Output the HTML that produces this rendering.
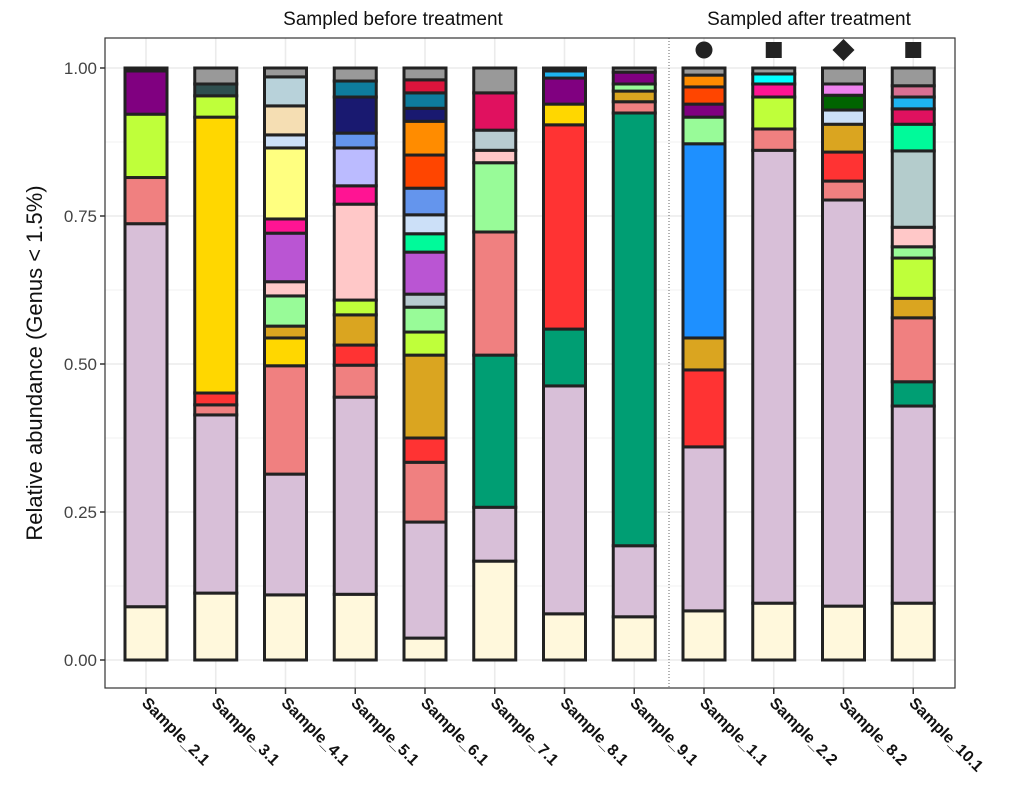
<!DOCTYPE html>
<html><head><meta charset="utf-8"><style>
body{margin:0;background:#fff}
svg{display:block;font-family:"Liberation Sans",Arial,sans-serif}
</style></head><body>
<svg id="chart" width="1024" height="790" viewBox="0 0 1024 790">
<rect x="0" y="0" width="1024" height="790" fill="#fff"/>
<g id="grid"></g>
<g id="bars"></g>
<line x1="669" y1="38" x2="669" y2="688" stroke="#666" stroke-width="1" stroke-dasharray="1,2"/>
<rect x="105" y="38" width="850" height="650" fill="none" stroke="#333" stroke-width="1.2"/>
<g id="yaxis"></g>
<g id="xaxis"></g>
<g id="markers"></g>
<text x="393" y="25" font-size="19" text-anchor="middle" fill="#111">Sampled before treatment</text>
<text x="809" y="25" font-size="19" text-anchor="middle" fill="#111">Sampled after treatment</text>
<text transform="translate(42,363) rotate(-90)" font-size="22" text-anchor="middle" fill="#111">Relative abundance (Genus &lt; 1.5%)</text>
</svg>
<script>
const categories = ["Sample_2.1","Sample_3.1","Sample_4.1","Sample_5.1","Sample_6.1","Sample_7.1","Sample_8.1","Sample_9.1","Sample_1.1","Sample_2.2","Sample_8.2","Sample_10.1"];
const seg_2_1 = [.09,.647,.078,.107,.073,.005];
const col_2_1 = ["#FFF8DC","#D8BFD8","#F08080","#BFFF3A","#800080","#999"];
const seg_3_1 = [.113,.301,.017,.02,.466,.036,.02,.027];
const col_3_1 = ["#FFF8DC","#D8BFD8","#F08080","#FF3333","#FFD700","#BFFF3A","#2F4F4F","#999"];
const seg_4_1 = [.11,.204,.183,.047,.02,.051,.024,.082,.024,.12,.022,.049,.049,.015];
const col_4_1 = ["#FFF8DC","#D8BFD8","#F08080","#FFD700","#DAA520","#98FB98","#FFC8C8","#BA55D3","#FF1493","#FFFF80","#CCE0F8","#F5DEB3","#B8D2DA","#999"];
const seg_5_1 = [.111,.333,.054,.034,.051,.025,.162,.031,.064,.025,.061,.027,.022];
const col_5_1 = ["#FFF8DC","#D8BFD8","#F08080","#FF3333","#DAA520","#BFFF3A","#FFC8C8","#FF1493","#BBBBFF","#6495ED","#191970","#0E7C9D","#999"];
const seg_6_1 = [.037,.196,.101,.041,.14,.039,.042,.022,.071,.031,.032,.045,.056,.057,.022,.026,.022,.02];
const col_6_1 = ["#FFF8DC","#D8BFD8","#F08080","#FF3333","#DAA520","#BFFF3A","#98FB98","#B8CBD0","#BA55D3","#00FA9A","#CCE0F8","#6495ED","#FF4500","#FF8C00","#191970","#0E7C9D","#DC143C","#999"];
const seg_7_1 = [.167,.091,.257,.208,.117,.021,.034,.063,.042];
const col_7_1 = ["#FFF8DC","#D8BFD8","#009E73","#F08080","#98FB98","#FFC8C8","#B8CBD0","#E0115F","#999"];
const seg_8_1 = [.078,.385,.096,.345,.035,.044,.012,.005];
const col_8_1 = ["#FFF8DC","#D8BFD8","#009E73","#FF3333","#FFD700","#800080","#1EB4F0","#999"];
const seg_9_1 = [.073,.12,.731,.019,.018,.012,.02,.007];
const col_9_1 = ["#FFF8DC","#D8BFD8","#009E73","#F08080","#DAA520","#98FB98","#800080","#999"];
const seg_1_1 = [.083,.277,.13,.054,.328,.045,.022,.029,.02,.012];
const col_1_1 = ["#FFF8DC","#D8BFD8","#FF3333","#DAA520","#1E90FF","#98FB98","#800080","#FF4500","#FF8C00","#999"];
const seg_2_2 = [.096,.765,.036,.054,.022,.017,.01];
const col_2_2 = ["#FFF8DC","#D8BFD8","#F08080","#BFFF3A","#FF1493","#00FFFF","#999"];
const seg_8_2 = [.091,.686,.032,.049,.047,.024,.025,.019,.027];
const col_8_2 = ["#FFF8DC","#D8BFD8","#F08080","#FF3333","#DAA520","#CCE0F8","#006400","#EE82EE","#999"];
const seg_10_1 = [.096,.333,.041,.108,.033,.068,.019,.033,.129,.045,.026,.02,.019,.03];
const col_10_1 = ["#FFF8DC","#D8BFD8","#009E73","#F08080","#DAA520","#BFFF3A","#98FB98","#FFC8C8","#B4CCCC","#00FA9A","#E0115F","#1EB4F0","#D87093","#999"];
const seriesValues = [seg_2_1,seg_3_1,seg_4_1,seg_5_1,seg_6_1,seg_7_1,seg_8_1,seg_9_1,seg_1_1,seg_2_2,seg_8_2,seg_10_1];
const seriesColors = [col_2_1,col_3_1,col_4_1,col_5_1,col_6_1,col_7_1,col_8_1,col_9_1,col_1_1,col_2_2,col_8_2,col_10_1];
const yTicks = [0,0.25,0.5,0.75,1];
const yTickLabels = ["0.00","0.25","0.50","0.75","1.00"];
const markerShapes = ["circle","square","diamond","square"];

const NS="http://www.w3.org/2000/svg";
const y = v => 660 - v*592;
const x = i => 146 + i*69.75;
const BW = 42;
function mk(tag, attrs, parent){const e=document.createElementNS(NS,tag);for(const k in attrs)e.setAttribute(k,attrs[k]);parent.appendChild(e);return e;}
const grid=document.getElementById('grid'), bars=document.getElementById('bars'), ya=document.getElementById('yaxis'), xa=document.getElementById('xaxis'), mg=document.getElementById('markers');
for(let v=0; v<=1.0001; v+=0.125){
  const major = Math.abs(v*4-Math.round(v*4))<1e-6;
  const l=mk('line',{x1:105,x2:955,y1:y(v),y2:y(v),stroke:'#ebebeb','stroke-width':major?1.6:0.8},grid);
  
  
}
categories.forEach((c,i)=>{
  const l=mk('line',{x1:x(i),x2:x(i),y1:38,y2:688,stroke:'#ebebeb','stroke-width':1.6},grid);
  
  
  const g=mk('g',{},bars);
  
  
  let cum=0;
  seriesValues[i].forEach((s,j)=>{
    const r=mk('rect',{x:x(i)-BW/2,y:y(cum+s),width:BW,height:Math.max(0,y(cum)-y(cum+s)),fill:seriesColors[i][j],stroke:'#222','stroke-width':3},g);
    
    
    cum+=s;
  });
  const tk=mk('line',{x1:x(i),x2:x(i),y1:688,y2:694,stroke:'#333','stroke-width':1.5},xa);
  
  
  const t=mk('text',{transform:`translate(${x(i)-5},${704}) rotate(45)`,'font-size':16,'font-weight':'bold',fill:'#111'},xa);
  t.textContent=c;
  
  
});
yTicks.forEach((v,i)=>{
  const tk=mk('line',{x1:100,x2:105,y1:y(v),y2:y(v),stroke:'#333','stroke-width':1.5},ya);
  
  
  const t=mk('text',{x:97,y:y(v)+6,'font-size':17,'text-anchor':'end',fill:'#444'},ya);
  t.textContent=yTickLabels[i];
  
  
});
markerShapes.forEach((s,k)=>{
  const cx=x(8+k), cy=50; let e;
  if(s==='circle') e=mk('circle',{cx:cx,cy:cy,r:8.5,fill:'#222'},mg);
  else if(s==='square') e=mk('rect',{x:cx-8,y:cy-8,width:16,height:16,fill:'#222'},mg);
  else e=mk('polygon',{points:`${cx},${cy-11} ${cx+11},${cy} ${cx},${cy+11} ${cx-11},${cy}`,fill:'#222'},mg);
  
  
});
</script>
</body></html>
